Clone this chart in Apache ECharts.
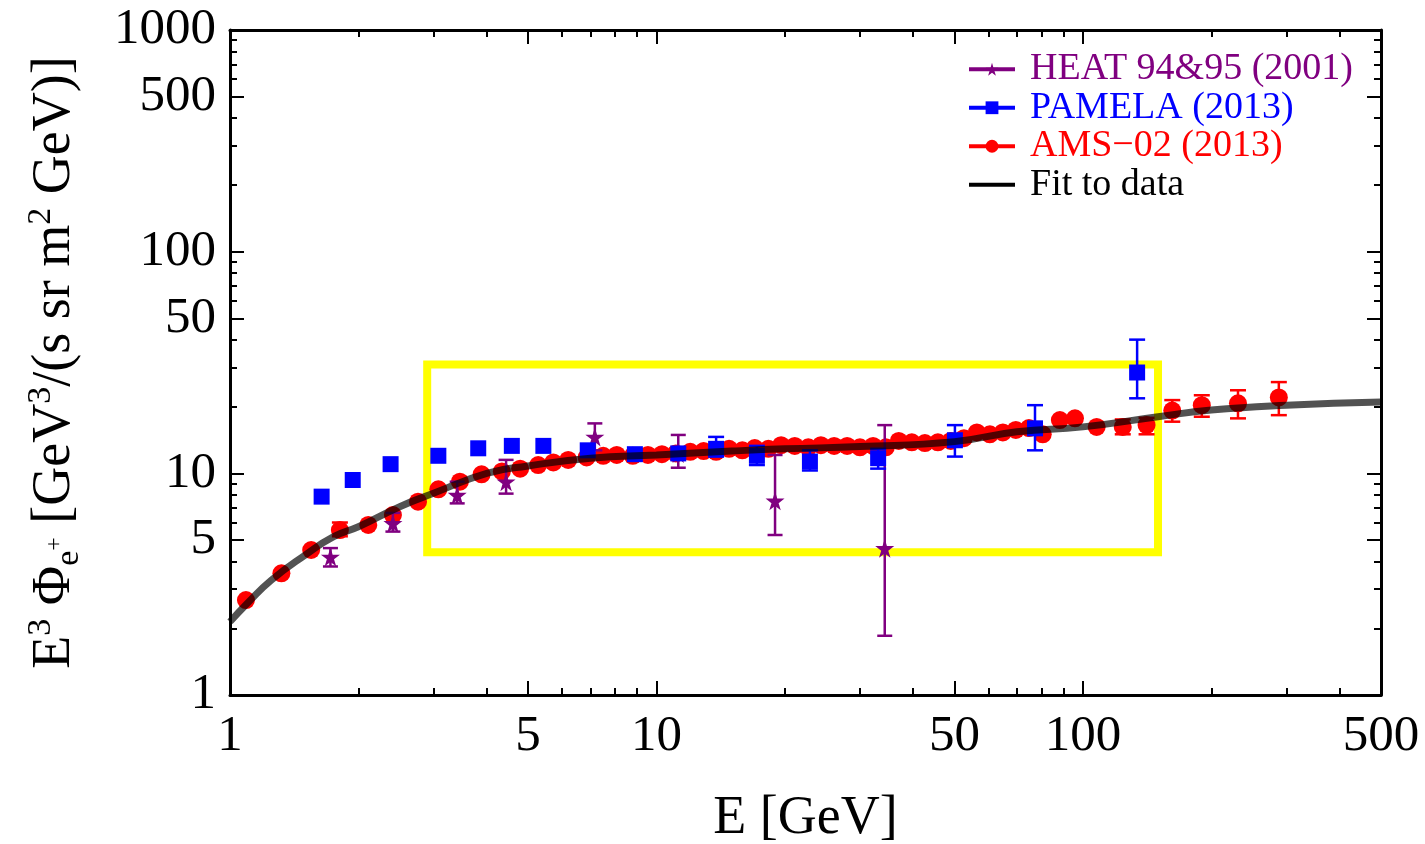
<!DOCTYPE html>
<html>
<head>
<meta charset="utf-8">
<script src="https://cdn.jsdelivr.net/npm/echarts@6/dist/echarts.min.js"></script>
<style>
  html, body { margin: 0; padding: 0; background: #fff; }
  #chart { width: 1425px; height: 844px; }
</style>
</head>
<body>
<div id="chart"></div>
<script>
// --- data ---
const heatE  = [1.72, 2.41, 3.41, 4.44, 7.17, 11.25, 18.97, 34.3];
const heatV  = [4.2, 5.95, 7.98, 9.17, 14.6, 12.3, 7.52, 4.59];
const heatLo = [3.8, 5.46, 7.32, 8.1, 12.7, 10.6, 5.27, 1.85];
const heatHi = [4.6, 6.63, 9.17, 11.5, 16.8, 14.9, 12.1, 16.5];

const pamelaE = [1.64, 1.94, 2.38, 3.08, 3.82, 4.58, 5.43, 6.9, 8.9, 11.25, 13.8, 17.2, 22.9, 33.1, 50.1, 77.2, 134];
const pamelaV = [7.85, 9.33, 11.0, 12.0, 12.97, 13.3, 13.3, 12.7, 12.2, 12.3, 12.9, 12.0, 11.3, 11.7, 14.1, 15.96, 28.5];
const pamelaErrE  = [13.8, 17.2, 22.9, 33.1, 50.1, 77.2, 134];
const pamelaErrLo = [11.9, 10.9, 10.3, 10.5, 11.9, 12.7, 21.8];
const pamelaErrHi = [14.6, 13.3, 12.7, 12.9, 16.5, 20.3, 40.1];

const amsE = [1.09, 1.32, 1.55, 1.81, 2.11, 2.41, 2.76, 3.08, 3.46, 3.89,
              4.34, 4.79, 5.28, 5.73, 6.21, 6.86, 7.5, 8.07, 8.8, 9.55,
              10.3, 11.1, 12.0, 12.9, 13.8, 14.8, 15.9, 17.0, 18.3, 19.6,
              21.1, 22.7, 24.3, 26.1, 28.0, 30.0, 32.2, 34.5, 37.0, 39.7,
              42.6, 45.7, 49.0, 52.6, 56.4, 60.5, 64.9, 69.6, 74.7, 80.5,
              88.3, 95.8, 107.7, 124, 141, 162, 190, 231, 288];
const amsV = [2.68, 3.54, 4.51, 5.55, 5.85, 6.48, 7.45, 8.47, 9.17, 9.9,
              10.2, 10.5, 10.9, 11.2, 11.5, 11.8, 12.0, 12.1, 12.0, 12.1,
              12.2, 12.3, 12.5, 12.6, 12.5, 12.9, 12.7, 13.0, 12.9, 13.4,
              13.3, 13.1, 13.4, 13.3, 13.3, 13.1, 13.3, 13.1, 14.0, 13.8,
              13.7, 13.8, 14.0, 14.4, 15.3, 15.0, 15.3, 15.7, 16.0, 15.0,
              17.4, 17.7, 16.2, 16.2, 16.5, 19.2, 20.3, 20.7, 22.0];
const amsErrE  = [1.81, 124, 141, 162, 190, 231, 288];
const amsErrLo = [5.2, 15.0, 15.0, 17.1, 18.0, 17.7, 18.3];
const amsErrHi = [6.0, 17.5, 17.8, 21.4, 22.5, 23.7, 25.8];

const fitE = [1, 1.1, 1.25, 1.5, 1.75, 2, 2.5, 3, 4, 5, 7, 10, 15, 20, 30, 50, 70, 100, 150, 200, 300, 500];
const fitV = [2.14, 2.6, 3.3, 4.28, 5.18, 5.74, 7.07, 8.13, 10.0, 10.8, 11.7, 12.1, 12.6, 12.9, 13.2, 13.9, 15.4, 16.2, 18.0, 19.3, 20.3, 21.0];

// yellow highlight box (data coords)
const boxE = [2.9, 150];
const boxV = [4.4, 31];

const xLabels = [1, 5, 10, 50, 100, 500];
const xMinor  = [2, 3, 4, 6, 7, 8, 9, 20, 30, 40, 60, 70, 80, 90, 200, 300, 400];
const yLabels = [1, 5, 10, 50, 100, 500, 1000];
const yMinor  = [2, 3, 4, 6, 7, 8, 9, 20, 30, 40, 60, 70, 80, 90, 200, 300, 400, 600, 700, 800, 900];

const FONT = 'Liberation Serif';
const C_HEAT = '#800080', C_PAM = '#0000ff', C_AMS = '#ff0000';
const STAR = 'path://M50,0 L61,35 L98,35 L68,57 L79,91 L50,70 L21,91 L32,57 L2,35 L39,35 Z';

const zip = (a, b) => a.map((v, i) => [v, b[i]]);

// vertical error bars with caps
function errBars(name, es, lo, hi, color, cap, z) {
  return {
    type: 'custom', name: name, z: z, silent: true,
    data: es.map((e, i) => [e, lo[i], hi[i]]),
    encode: { x: 0, y: [1, 2] },
    renderItem: (params, api) => {
      const a = api.coord([api.value(0), api.value(1)]);
      const b = api.coord([api.value(0), api.value(2)]);
      const st = { stroke: color, lineWidth: 2.5 };
      const h = cap / 2;
      return {
        type: 'group', children: [
          { type: 'line', shape: { x1: a[0], y1: a[1], x2: b[0], y2: b[1] }, style: st },
          { type: 'line', shape: { x1: a[0] - h, y1: a[1], x2: a[0] + h, y2: a[1] }, style: st },
          { type: 'line', shape: { x1: b[0] - h, y1: b[1], x2: b[0] + h, y2: b[1] }, style: st }
        ]
      };
    }
  };
}

const gridBox = { left: 230, right: 44, top: 30, bottom: 149, outerBoundsMode: 'none', containLabel: false };
const frame = { show: true, lineStyle: { color: '#000', width: 3 } };
const noLine = { show: false };

function makeAxis(range, grid, pos, ticks, len, labels, margin) {
  return {
    type: 'log', logBase: 10, min: range[0], max: range[1], gridIndex: grid, position: pos,
    axisLine: grid === 0 ? frame : noLine,
    axisTick: { show: true, inside: true, length: len, customValues: ticks, lineStyle: { color: '#000', width: 2 } },
    axisLabel: labels ? {
      customValues: labels, fontSize: 51, fontFamily: FONT, color: '#000', margin: margin,
      formatter: v => String(Math.round(v))
    } : { show: false },
    splitLine: { show: false },
    minorTick: { show: false }
  };
}

const xAxes = [
  makeAxis([1, 500], 0, 'bottom', xLabels, 14, xLabels, 16),
  makeAxis([1, 500], 0, 'top', xLabels, 14, null),
  makeAxis([1, 500], 1, 'bottom', xMinor, 7, null),
  makeAxis([1, 500], 1, 'top', xMinor, 7, null)
];
Object.assign(xAxes[0], {
  name: 'E [GeV]', nameLocation: 'middle', nameGap: 97,
  nameTextStyle: { fontSize: 54, fontFamily: FONT, color: '#000' }
});
const yAxes = [
  makeAxis([1, 1000], 0, 'left', yLabels, 14, yLabels, 14),
  makeAxis([1, 1000], 0, 'right', yLabels, 14, null),
  makeAxis([1, 1000], 1, 'left', yMinor, 7, null),
  makeAxis([1, 1000], 1, 'right', yMinor, 7, null)
];
Object.assign(yAxes[0], {
  name: '{b|E}{sup|3}{b| Φ}{sub|e}{sp|+}{b| [GeV}{sup|3}{b|/(s sr m}{sup|2}{b| GeV)]}',
  nameLocation: 'middle', nameGap: 144, nameRotate: 90,
  nameTextStyle: {
    fontFamily: FONT, color: '#000',
    rich: {
      b:   { fontSize: 54, fontFamily: FONT, color: '#000', lineHeight: 62 },
      sup: { fontSize: 34, fontFamily: FONT, color: '#000', verticalAlign: 'top', lineHeight: 34 },
      sub: { fontSize: 34, fontFamily: FONT, color: '#000', verticalAlign: 'bottom', lineHeight: 34 },
      sp:  { fontSize: 24, fontFamily: FONT, color: '#000', verticalAlign: 'middle', lineHeight: 24 }
    }
  }
});

const chart = echarts.init(document.getElementById('chart'));
chart.setOption({
  animation: false,
  textStyle: { fontFamily: FONT },
  grid: [ Object.assign({}, gridBox), Object.assign({}, gridBox) ],
  xAxis: xAxes,
  yAxis: yAxes,
  legend: {
    orient: 'vertical', left: 962, top: 45,
    itemWidth: 46, itemHeight: 16, itemGap: 0, selectedMode: false,
    textStyle: { fontSize: 38, fontFamily: FONT, lineHeight: 38.5, padding: [0, 0, 0, 10] },
    data: [
      { name: 'HEAT 94&95 (2001)', textStyle: { color: C_HEAT }, lineStyle: { opacity: 1, width: 4 } },
      { name: 'PAMELA (2013)', textStyle: { color: C_PAM }, lineStyle: { opacity: 1, width: 4 } },
      { name: 'AMS\u221202 (2013)', textStyle: { color: C_AMS }, lineStyle: { opacity: 1, width: 4 } },
      { name: 'Fit to data', textStyle: { color: '#000' }, itemStyle: { opacity: 0 },
        lineStyle: { opacity: 1, width: 4, color: '#000' } }
    ]
  },
  series: [
    {
      name: 'box', type: 'line', data: [], z: 1,
      markArea: {
        silent: true,
        itemStyle: { color: 'rgba(0,0,0,0)', borderColor: '#ffff00', borderWidth: 8 },
        data: [[{ coord: [boxE[0], boxV[1]] }, { coord: [boxE[1], boxV[0]] }]]
      }
    },
    errBars('ams_err', amsErrE, amsErrLo, amsErrHi, C_AMS, 16, 2),
    {
      name: 'AMS\u221202 (2013)', type: 'line', z: 3, data: zip(amsE, amsV),
      symbol: 'circle', symbolSize: 18, showAllSymbol: true,
      itemStyle: { color: C_AMS }, lineStyle: { color: C_AMS, opacity: 0 }
    },
    errBars('heat_err', heatE, heatLo, heatHi, C_HEAT, 15, 4),
    {
      name: 'HEAT 94&95 (2001)', type: 'line', z: 4, data: zip(heatE, heatV),
      symbol: STAR, symbolSize: 19, showAllSymbol: true,
      itemStyle: { color: C_HEAT }, lineStyle: { color: C_HEAT, opacity: 0 }
    },
    errBars('pam_err', pamelaErrE, pamelaErrLo, pamelaErrHi, C_PAM, 16, 5),
    {
      name: 'PAMELA (2013)', type: 'line', z: 5, data: zip(pamelaE, pamelaV),
      symbol: 'rect', symbolSize: 16, showAllSymbol: true,
      itemStyle: { color: C_PAM }, lineStyle: { color: C_PAM, opacity: 0 }
    },
    {
      name: 'Fit to data', type: 'line', z: 6, data: zip(fitE, fitV),
      smooth: true, symbol: 'none', itemStyle: { color: '#000' },
      lineStyle: { color: '#000', width: 7, opacity: 0.68 }
    }
  ]
});
</script>
</body>
</html>
